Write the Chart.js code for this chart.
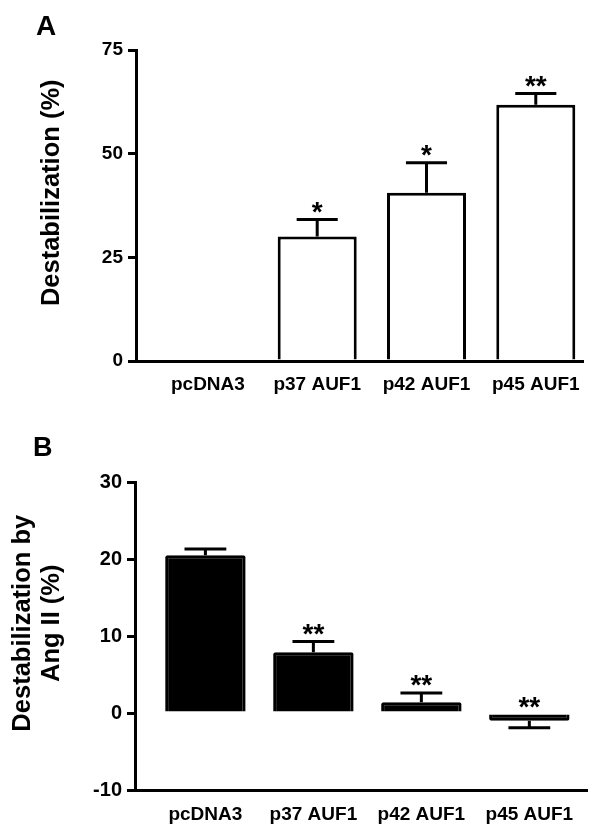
<!DOCTYPE html>
<html>
<head>
<meta charset="utf-8">
<script src="https://cdn.jsdelivr.net/npm/chart.js@4.4.1/dist/chart.umd.min.js"></script>
<style>
  body { margin: 0; background: #fff; }
  #wrap { position: relative; width: 600px; height: 830px; font-family: "Liberation Sans", Arial, sans-serif; }
  canvas { position: absolute; left: 0; }
  #chartA { top: 0; }
  #chartB { top: 415px; }
  .tag { position: absolute; font-weight: bold; line-height: 1; color: #000; }
</style>
</head>
<body>
<div id="wrap">
  <canvas id="chartA" width="600" height="415"></canvas>
  <canvas id="chartB" width="600" height="415"></canvas>
  <div class="tag" style="left:36px; top:12px; font-size:28px;">A</div>
  <div class="tag" style="left:33px; top:434px; font-size:27px;">B</div>
</div>
<script>
// Data
const categories = ["pcDNA3", "p37 AUF1", "p42 AUF1", "p45 AUF1"];

const destabA = [0, 30.0, 40.6, 61.8];
const semA = [0, 4.1, 7.2, 2.7];
const starsA = ["", "*", "*", "**"];
const ticksA = [0, 25, 50, 75];

const destabB = [20.5, 7.9, 1.4, -1.0];
const semB = [0.8, 1.4, 1.2, 0.9];
const starsB = ["", "**", "**", "**"];
const ticksB = [-10, 0, 10, 20, 30];

const FONT = '"Liberation Sans", Arial, sans-serif';
Chart.defaults.font.family = FONT;
Chart.defaults.color = "#000";
Chart.defaults.animation = false;

// Draws SEM whiskers (one-sided, away from zero) and significance stars
function errorBarPlugin(sem, stars) {
  return {
    id: "errorBars",
    afterDatasetsDraw(chart) {
      const ctx = chart.ctx;
      const yScale = chart.scales.y;
      const meta = chart.getDatasetMeta(0);
      const points = chart.data.datasets[0].data;
      ctx.save();
      ctx.strokeStyle = "#000";
      ctx.fillStyle = "#000";
      ctx.lineWidth = 3;
      ctx.font = "bold 28px " + FONT;
      ctx.textAlign = "center";
      ctx.textBaseline = "alphabetic";
      meta.data.forEach((bar, i) => {
        const v = points[i].y;
        let markTop = Math.min(bar.y, bar.base);
        if (sem[i] > 0) {
          const end = yScale.getPixelForValue(v >= 0 ? v + sem[i] : v - sem[i]);
          const half = bar.width * 0.26;
          ctx.beginPath();
          ctx.moveTo(bar.x, bar.y);
          ctx.lineTo(bar.x, end);
          ctx.moveTo(bar.x - half, end);
          ctx.lineTo(bar.x + half, end);
          ctx.stroke();
          markTop = Math.min(markTop, end);
        }
        if (stars[i]) {
          const m = ctx.measureText(stars[i]);
          const mid = (m.actualBoundingBoxAscent - m.actualBoundingBoxDescent) / 2;
          ctx.fillText(stars[i], bar.x, markTop - 12 + mid);
        }
      });
      ctx.restore();
    }
  };
}

function makePanel(id, p) {
  return new Chart(document.getElementById(id), {
    type: "bar",
    data: {
      datasets: [{
        data: p.values.map((v, i) => ({ x: i, y: v })),
        backgroundColor: p.fill,
        borderColor: "#000",
        borderWidth: 3,
        borderSkipped: "start",
        borderRadius: p.radius,
        inflateAmount: 0,
        barPercentage: p.barPct,
        categoryPercentage: 1
      }]
    },
    options: {
      responsive: false,
      animation: false,
      layout: { padding: { top: p.top, right: p.right, left: 0, bottom: 0 } },
      plugins: { legend: { display: false }, tooltip: { enabled: false } },
      scales: {
        x: {
          type: "linear",
          min: p.xMin,
          max: p.xMax,
          offset: false,
          grid: { display: false, drawTicks: false },
          border: { display: true, color: "#000", width: 3 },
          afterBuildTicks: s => { s.ticks = categories.map((c, i) => ({ value: i })); },
          afterFit: s => { s.height = p.xHeight; },
          ticks: {
            callback: v => categories[v],
            padding: p.xPad,
            maxRotation: 0,
            autoSkip: false,
            font: { size: 19, weight: "bold" }
          }
        },
        y: {
          min: p.ticks[0],
          max: p.ticks[p.ticks.length - 1],
          afterBuildTicks: s => { s.ticks = p.ticks.map(v => ({ value: v })); },
          afterFit: s => { s.width = p.yWidth; },
          grid: { drawOnChartArea: false, drawTicks: true, tickLength: 8, lineWidth: 3, color: "#000" },
          border: { display: true, color: "#000", width: 3 },
          ticks: { padding: 5, font: { size: p.tickSize, weight: "bold" } },
          title: {
            display: true,
            text: p.title,
            padding: { top: p.titlePad, bottom: 0 },
            font: { size: 25.5, weight: "bold", lineHeight: 1.15 }
          }
        }
      }
    },
    plugins: [errorBarPlugin(p.sem, p.stars)]
  });
}

// Panel A: open bars
makePanel("chartA", {
  values: destabA, sem: semA, stars: starsA, ticks: ticksA,
  fill: "#fff", radius: 0, barPct: 0.723,
  top: 50, right: 17, xMin: -0.658, xMax: 3.432, xHeight: 54, xPad: 12,
  yWidth: 136, tickSize: 19,
  title: "\u2003Destabilization (%)", titlePad: 37
});

// Panel B: filled bars
makePanel("chartB", {
  values: destabB, sem: semB, stars: starsB, ticks: ticksB,
  fill: "#000", radius: 2, barPct: 0.745,
  top: 67, right: 13, xMin: -0.652, xMax: 3.534, xHeight: 40, xPad: 13,
  yWidth: 135, tickSize: 20,
  title: ["\u2003Destabilization by", "\u2003Ang II (%)"], titlePad: 8.4
});
</script>
</body>
</html>
